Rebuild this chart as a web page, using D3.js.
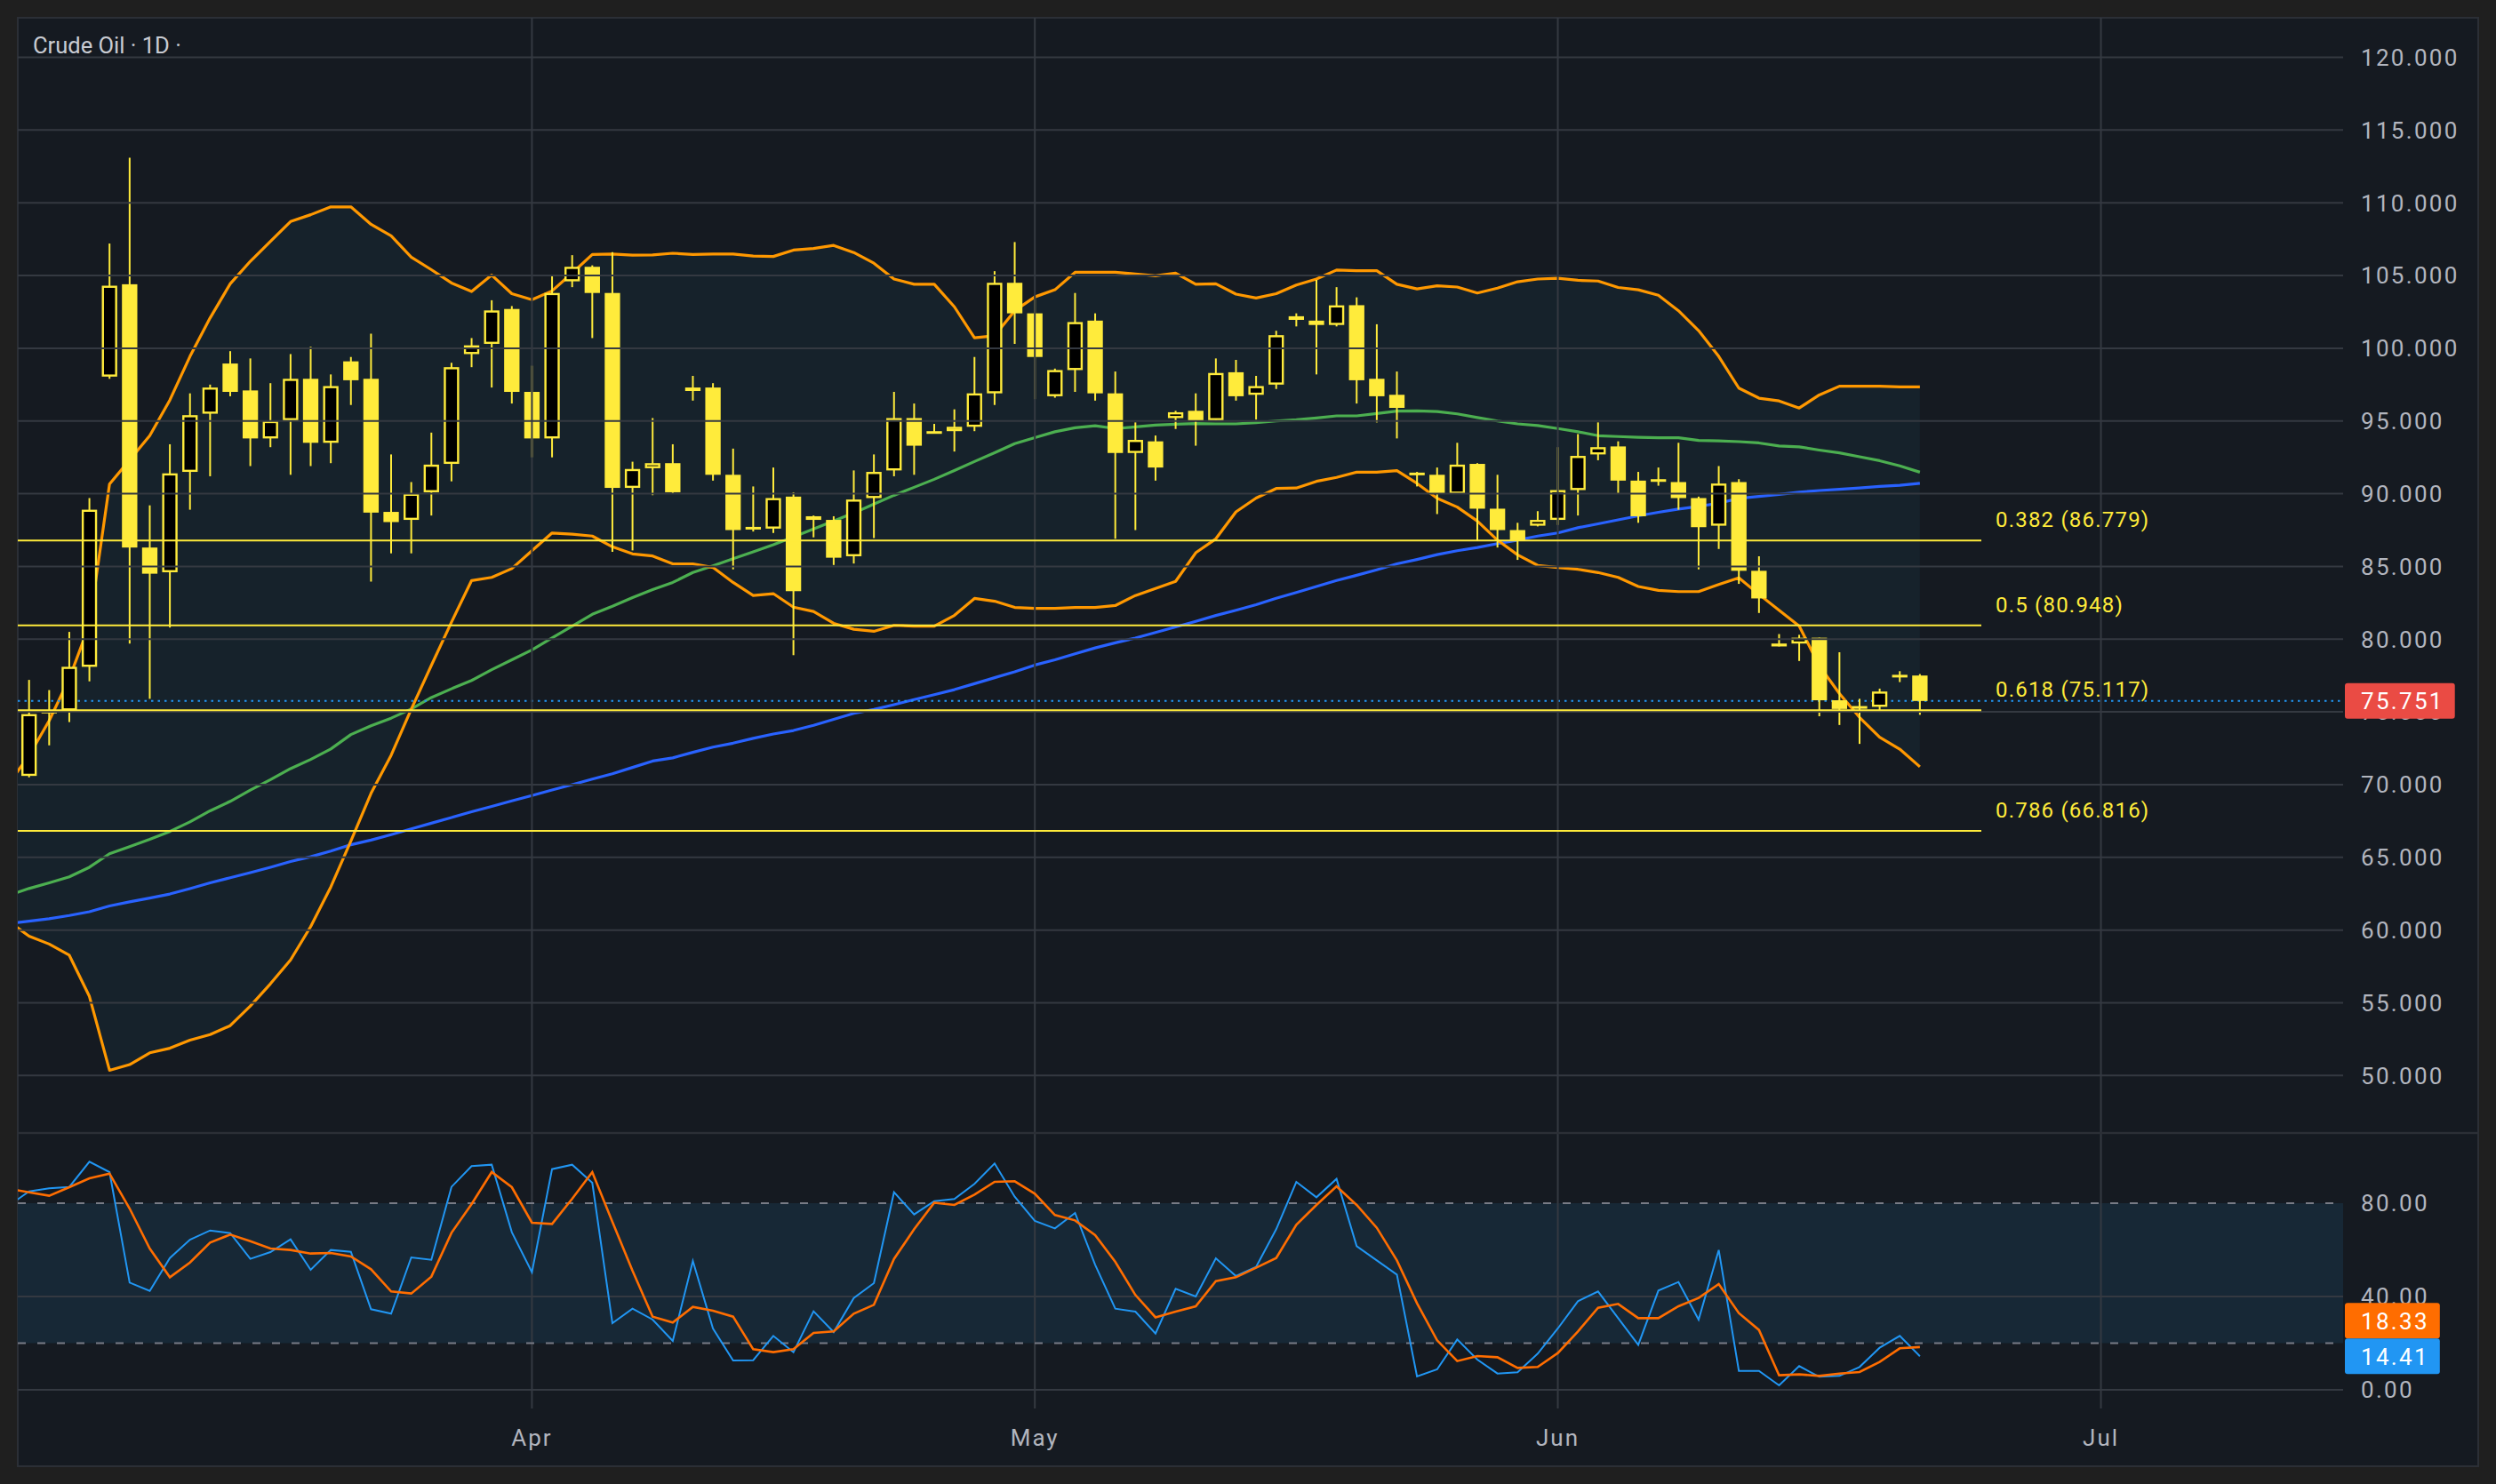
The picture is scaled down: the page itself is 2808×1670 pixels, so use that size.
<!DOCTYPE html>
<html>
<head>
<meta charset="utf-8">
<script src="https://cdn.jsdelivr.net/npm/d3@7"></script>
<style>
  html, body { margin: 0; padding: 0; background: #1f1f1f; }
  svg { display: block; }
  text { font-family: Roboto, "Noto Sans", sans-serif; }
</style>
</head>
<body>
<div id="chart"></div>
<script>
// ---- candles (bar index 0..94) ----
const open = [70.6, 75.1, 75.1, 78.1, 98.05, 104.4, 86.3, 84.6, 91.5, 95.5,
  98.95, 97.1, 93.8, 95.05, 97.9, 93.5, 99.1, 97.9, 88.75, 88.2,
  90.1, 92.05, 99.6, 100.3, 102.7, 97.0, 93.8, 104.6, 105.6, 103.8,
  90.4, 91.75, 92.1, 97.1, 97.3, 91.3, 87.72, 87.6, 89.8, 88.45,
  88.2, 85.7, 89.7, 91.6, 95.2, 94.3, 94.3, 94.6, 96.9, 104.5,
  102.4, 96.7, 98.5, 101.9, 96.9, 92.8, 93.6, 95.2, 95.7, 95.05,
  98.35, 96.8, 97.5, 102.2, 101.9, 101.6, 102.96, 97.9, 96.8, 91.45,
  91.3, 90.0, 92.05, 88.97, 87.5, 87.8, 88.2, 90.25, 92.7, 93.25,
  90.9, 91.0, 90.8, 89.7, 87.8, 90.8, 84.7, 79.7, 79.7, 80.1,
  75.8, 75.4, 75.35, 77.55, 77.5];
const high = [77.2, 76.5, 80.5, 89.7, 107.2, 113.1, 89.2, 93.4, 96.9, 97.5,
  99.8, 99.3, 97.6, 99.6, 100.1, 98.2, 99.4, 101.0, 92.7, 90.8,
  94.2, 99.0, 100.7, 103.3, 102.9, 98.8, 105.0, 106.4, 105.7, 106.6,
  92.2, 95.2, 93.4, 98.1, 97.6, 93.1, 90.5, 91.8, 90.1, 88.5,
  88.45, 91.6, 92.7, 97.0, 96.2, 94.8, 95.8, 99.4, 105.3, 107.3,
  103.4, 98.6, 103.8, 102.4, 98.4, 94.9, 94.0, 95.7, 96.9, 99.3,
  99.2, 98.1, 101.2, 102.4, 104.7, 104.2, 103.5, 101.65, 98.4, 91.5,
  91.8, 93.5, 92.1, 91.3, 88.0, 88.8, 93.2, 94.1, 94.9, 93.6,
  91.5, 91.8, 93.5, 89.8, 91.9, 91.0, 85.7, 80.35, 80.3, 80.1,
  79.1, 75.9, 76.6, 77.8, 77.6];
const low = [70.5, 72.7, 74.3, 77.1, 97.9, 79.7, 75.9, 80.8, 88.9, 91.2,
  96.7, 91.9, 93.2, 91.3, 91.9, 92.1, 96.1, 83.95, 85.9, 85.9,
  88.5, 90.85, 98.7, 97.3, 96.2, 92.5, 92.5, 104.2, 100.7, 86.0,
  86.1, 89.9, 90.0, 96.4, 90.9, 84.8, 87.4, 87.3, 78.9, 87.0,
  85.1, 85.2, 86.95, 91.2, 91.3, 94.2, 92.9, 94.3, 96.1, 100.3,
  96.5, 96.6, 97.0, 96.4, 86.9, 87.5, 90.9, 94.45, 93.3, 95.0,
  96.4, 95.1, 97.2, 101.5, 98.2, 101.5, 96.2, 94.9, 93.8, 90.5,
  88.6, 90.0, 86.8, 86.3, 85.45, 87.75, 87.85, 88.5, 92.3, 90.0,
  88.0, 90.55, 88.9, 84.8, 86.2, 83.8, 81.8, 79.5, 78.5, 74.7,
  74.1, 72.8, 74.95, 77.05, 74.8];
const close = [74.85, 74.9, 78.1, 88.9, 104.3, 86.3, 84.5, 91.4, 95.4, 97.3,
  97.0, 93.8, 95.0, 97.9, 93.5, 97.4, 97.8, 88.7, 88.05, 90.0,
  92.0, 98.7, 100.2, 102.6, 97.0, 93.8, 103.8, 105.6, 103.8, 90.4,
  91.7, 92.1, 90.1, 97.3, 91.3, 87.5, 87.68, 89.7, 83.3, 88.2,
  85.6, 89.6, 91.5, 95.2, 93.3, 94.2, 94.6, 96.9, 104.5, 102.4,
  99.4, 98.5, 101.8, 96.9, 92.8, 93.7, 91.8, 95.6, 95.0, 98.3,
  96.7, 97.4, 100.9, 101.95, 101.6, 102.95, 97.8, 96.7, 95.9, 91.4,
  90.0, 92.0, 88.97, 87.5, 86.8, 88.2, 90.25, 92.6, 93.2, 90.9,
  88.45, 90.9, 89.7, 87.7, 90.7, 84.7, 82.8, 79.5, 80.1, 75.8,
  75.2, 75.35, 76.4, 77.5, 75.751];

// ---- indicators: bar index -1..94 (first point sits just off the left edge) ----
const indStart = -1;
const bbUpper = [70.1, 72.0, 74.4, 77.3, 81.0, 90.66, 92.32, 93.99, 96.44, 99.44,
  102.08, 104.43, 105.98, 107.35, 108.71, 109.18, 109.72, 109.72, 108.52, 107.73,
  106.26, 105.4, 104.49, 103.9, 105.03, 103.75, 103.34, 103.94, 105.17, 106.45,
  106.48, 106.4, 106.42, 106.53, 106.45, 106.48, 106.48, 106.34, 106.31, 106.75,
  106.86, 107.07, 106.58, 105.85, 104.76, 104.4, 104.4, 102.85, 100.72, 100.86,
  102.58, 103.53, 104.02, 105.22, 105.22, 105.22, 105.11, 104.98, 105.17, 104.4,
  104.43, 103.72, 103.45, 103.75, 104.35, 104.76, 105.38, 105.33, 105.33, 104.4,
  104.08, 104.29, 104.21, 103.8, 104.13, 104.57, 104.76, 104.81, 104.67, 104.62,
  104.18, 104.02, 103.64, 102.58, 101.21, 99.44, 97.26, 96.57, 96.38, 95.89,
  96.79, 97.39, 97.39, 97.39, 97.34, 97.34];
const bbLower = [60.6, 59.58, 59.04, 58.27, 55.44, 50.36, 50.75, 51.56, 51.88, 52.43,
  52.82, 53.43, 54.78, 56.31, 57.95, 60.24, 62.96, 66.13, 69.4, 72.02,
  75.18, 78.2, 81.17, 84.03, 84.25, 84.85, 86.08, 87.3, 87.22, 87.09,
  86.35, 85.86, 85.72, 85.18, 85.18, 84.93, 83.9, 83.0, 83.13, 82.2,
  81.9, 81.09, 80.68, 80.54, 80.95, 80.9, 80.9, 81.63, 82.8, 82.61,
  82.18, 82.12, 82.12, 82.18, 82.18, 82.31, 83.0, 83.49, 83.97, 85.94,
  86.9, 88.75, 89.7, 90.36, 90.39, 90.85, 91.12, 91.48, 91.48, 91.59,
  90.71, 89.68, 89.08, 88.12, 86.81, 85.8, 85.07, 84.93, 84.8, 84.58,
  84.25, 83.62, 83.35, 83.27, 83.27, 83.76, 84.22, 83.08, 81.99, 80.9,
  78.17, 76.26, 74.62, 73.26, 72.44, 71.23];
const maGreen = [62.4, 62.86, 63.25, 63.66, 64.32, 65.25, 65.74, 66.24, 66.78, 67.44,
  68.2, 68.85, 69.62, 70.34, 71.1, 71.73, 72.45, 73.44, 74.05, 74.57,
  75.2, 75.99, 76.59, 77.16, 77.9, 78.58, 79.26, 80.08, 80.9, 81.71,
  82.26, 82.86, 83.41, 83.9, 84.58, 85.04, 85.53, 86.0, 86.49, 87.03,
  87.58, 88.12, 88.67, 89.29, 89.89, 90.44, 90.99, 91.59, 92.21, 92.81,
  93.44, 93.85, 94.26, 94.53, 94.67, 94.48, 94.59, 94.72, 94.78, 94.83,
  94.8, 94.8, 94.89, 95.0, 95.08, 95.21, 95.35, 95.35, 95.51, 95.68,
  95.7, 95.65, 95.49, 95.24, 95.0, 94.8, 94.69, 94.48, 94.26, 93.99,
  93.93, 93.88, 93.85, 93.85, 93.66, 93.63, 93.58, 93.49, 93.28, 93.22,
  93.0, 92.81, 92.54, 92.27, 91.91, 91.48];
const maBlue = [60.45, 60.61, 60.78, 61.0, 61.26, 61.66, 61.94, 62.2, 62.48, 62.85,
  63.25, 63.6, 63.95, 64.32, 64.71, 65.04, 65.43, 65.87, 66.19, 66.56,
  66.96, 67.35, 67.74, 68.13, 68.5, 68.88, 69.25, 69.63, 70.0, 70.38,
  70.75, 71.18, 71.62, 71.84, 72.22, 72.58, 72.85, 73.18, 73.48, 73.72,
  74.08, 74.49, 74.9, 75.17, 75.5, 75.85, 76.18, 76.53, 76.94, 77.35,
  77.76, 78.22, 78.58, 78.99, 79.4, 79.75, 80.08, 80.46, 80.84, 81.22,
  81.63, 81.99, 82.37, 82.81, 83.21, 83.62, 84.03, 84.39, 84.77, 85.18,
  85.48, 85.81, 86.08, 86.3, 86.57, 86.81, 87.09, 87.3, 87.66, 87.93,
  88.2, 88.48, 88.72, 88.94, 89.13, 89.35, 89.68, 89.81, 89.95, 90.11,
  90.22, 90.3, 90.39, 90.5, 90.58, 90.71];
const stochK = [79, 85.08, 86.35, 86.98, 97.78, 93.33, 45.97, 42.41, 56.51, 64.38,
  68.32, 67.17, 56.13, 59.05, 64.51, 51.43, 59.94, 59.18, 34.54, 32.64,
  56.76, 55.75, 86.98, 95.87, 96.51, 67.56, 50.41, 94.6, 96.51, 88.76,
  28.57, 34.79, 30.1, 20.95, 55.24, 26.29, 12.57, 12.7, 23.11, 16.13,
  33.65, 24.76, 39.37, 45.71, 84.7, 75.18, 80.89, 81.78, 88.26, 97.02,
  82.79, 72.38, 69.21, 75.81, 53.59, 34.79, 33.52, 24.13, 43.3, 40.0,
  56.38, 48.76, 52.7, 68.83, 89.14, 82.54, 90.41, 61.59, 55.49, 49.4,
  5.71, 8.76, 21.59, 12.95, 6.98, 7.49, 15.49, 26.29, 37.97, 42.16,
  30.73, 19.3, 42.54, 46.22, 30.1, 59.94, 8.13, 8.13, 1.9, 10.16,
  5.59, 5.97, 9.78, 18.03, 23.11, 14.41];
const stochD = [86.2, 84.7, 83.18, 86.86, 90.67, 92.7, 77.71, 60.57, 48.26, 54.6,
  63.11, 66.54, 63.75, 60.57, 59.94, 58.41, 58.67, 57.14, 51.68, 42.16,
  41.27, 48.51, 67.3, 79.62, 93.33, 86.86, 71.62, 71.11, 81.9, 93.33,
  72.0, 51.05, 31.37, 28.83, 35.56, 33.9, 31.37, 17.4, 16.13, 17.4,
  24.38, 25.02, 32.64, 36.44, 56.13, 68.83, 80.25, 79.24, 83.68, 89.14,
  89.4, 84.06, 74.92, 72.63, 66.29, 54.86, 40.63, 31.05, 33.52, 35.81,
  46.6, 48.26, 52.32, 56.51, 70.73, 79.24, 87.24, 79.24, 69.46, 55.49,
  37.08, 21.21, 12.32, 14.48, 13.97, 9.4, 9.78, 15.75, 25.02, 35.18,
  36.83, 30.73, 30.73, 35.81, 39.37, 45.33, 32.89, 25.65, 6.22, 6.6,
  5.97, 6.98, 7.62, 11.94, 17.78, 18.33];

// ---- levels / ticks ----
const fibRatios = [0.382, 0.5, 0.618, 0.786];
const fibPrices = [86.779, 80.948, 75.117, 66.816];
const priceTicks = [50, 55, 60, 65, 70, 75, 80, 85, 90, 95, 100, 105, 110, 115, 120];
const stochTicks = [0, 40, 80];
const stochBand = [20, 80];
const monthLabels = ["Apr", "May", "Jun", "Jul"];
const monthBars = [25, 50, 76, 103];
const lastPrice = 75.751;
const chartTitle = "Crude Oil · 1D ·";

// ---- layout ----
const W = 2808, H = 1670;
const plotLeft = 20, plotRight = 2636, panelRight = 2788;
const plotTop = 20, priceBottom = 1275, panelBottom = 1650;
const axisX = 2656;

const c = {
  bg: "#1f1f1f", panel: "#151a21", border: "#2b2f36", grid: "#343941",
  bbFill: "#16222b", stochFill: "#172836", text: "#b2b5be",
  candle: "#ffeb3b", orange: "#ff9800", green: "#4caf50", blue: "#2962ff",
  kLine: "#2196f3", dLine: "#ff6d00", red: "#ea4b44", dash: "#787b86"
};

const x = d3.scaleLinear().domain([-0.561, 115.04]).range([plotLeft, plotRight]);
const y = d3.scaleLinear().domain([46.05, 122.72]).range([priceBottom, plotTop]);
const ys = d3.scaleLinear().domain([0, 80]).range([1564, 1354]);

const svg = d3.select("#chart").append("svg").attr("width", W).attr("height", H);
svg.append("rect").attr("width", W).attr("height", H).attr("fill", c.bg);
svg.append("rect").attr("x", plotLeft).attr("y", plotTop)
  .attr("width", panelRight - plotLeft).attr("height", panelBottom - plotTop)
  .attr("fill", c.panel).attr("stroke", c.border).attr("stroke-width", 2);

const defs = svg.append("defs");
defs.append("clipPath").attr("id", "clipPrice").append("rect")
  .attr("x", plotLeft).attr("y", plotTop).attr("width", plotRight - plotLeft).attr("height", priceBottom - plotTop);
defs.append("clipPath").attr("id", "clipStoch").append("rect")
  .attr("x", plotLeft).attr("y", priceBottom).attr("width", plotRight - plotLeft).attr("height", panelBottom - priceBottom);

const gPrice = svg.append("g").attr("clip-path", "url(#clipPrice)");
const ix = (d, k) => x(k + indStart);

// bollinger fill
gPrice.append("path").datum(bbUpper)
  .attr("d", d3.area().x(ix).y0((d, k) => y(bbLower[k])).y1(d => y(d)))
  .attr("fill", c.bbFill);

// stochastic band background
svg.append("rect").attr("x", plotLeft).attr("width", plotRight - plotLeft)
  .attr("y", ys(stochBand[1])).attr("height", ys(stochBand[0]) - ys(stochBand[1]))
  .attr("fill", c.stochFill);

// grid
svg.append("g").selectAll("line").data(priceTicks).join("line")
  .attr("x1", plotLeft).attr("x2", plotRight).attr("y1", d => y(d)).attr("y2", d => y(d))
  .attr("stroke", c.grid).attr("stroke-width", 2);
svg.append("g").selectAll("line").data(monthBars).join("line")
  .attr("x1", d => x(d)).attr("x2", d => x(d)).attr("y1", plotTop).attr("y2", 1585)
  .attr("stroke", c.grid).attr("stroke-width", 2);
svg.append("g").selectAll("line").data([0, 40]).join("line")
  .attr("x1", plotLeft).attr("x2", plotRight).attr("y1", d => ys(d)).attr("y2", d => ys(d))
  .attr("stroke", c.grid).attr("stroke-width", 2);
svg.append("g").selectAll("line").data(stochBand).join("line")
  .attr("x1", plotLeft).attr("x2", plotRight).attr("y1", d => ys(d)).attr("y2", d => ys(d))
  .attr("stroke", c.dash).attr("stroke-width", 2).attr("stroke-dasharray", "9,13");

// pane separator
svg.append("line").attr("x1", plotLeft).attr("x2", panelRight).attr("y1", priceBottom).attr("y2", priceBottom)
  .attr("stroke", c.border).attr("stroke-width", 2.5);

// fibonacci levels
const fibG = svg.append("g");
fibG.selectAll("line").data(fibPrices).join("line")
  .attr("x1", plotLeft).attr("x2", 2229).attr("y1", d => y(d)).attr("y2", d => y(d))
  .attr("stroke", c.candle).attr("stroke-width", 2);
fibG.selectAll("text").data(fibPrices).join("text")
  .attr("x", 2245).attr("y", d => y(d) - 15)
  .attr("fill", c.candle).attr("font-size", 24).attr("letter-spacing", 1.2)
  .text((d, k) => `${fibRatios[k]} (${d.toFixed(3)})`);

// moving averages and bands
const priceLine = d3.line().x(ix).y(d => y(d));
[[maBlue, c.blue], [maGreen, c.green], [bbUpper, c.orange], [bbLower, c.orange]].forEach(([s, col]) => {
  gPrice.append("path").datum(s).attr("d", priceLine)
    .attr("fill", "none").attr("stroke", col).attr("stroke-width", 3.2).attr("stroke-linejoin", "round");
});

// last price line
gPrice.append("line").attr("x1", plotLeft).attr("x2", plotRight).attr("y1", y(lastPrice)).attr("y2", y(lastPrice))
  .attr("stroke", c.kLine).attr("stroke-width", 2).attr("stroke-dasharray", "2.5,5");

// candles
const bw = (x(1) - x(0)) * 0.765, sw = 2.4;
const isUp = i => close[i] >= open[i];
const cg = gPrice.append("g").selectAll("g").data(open.map((o, i) => i)).join("g");
cg.append("line")
  .attr("x1", i => x(i)).attr("x2", i => x(i))
  .attr("y1", i => y(high[i])).attr("y2", i => y(low[i]))
  .attr("stroke", c.candle).attr("stroke-width", 2);
cg.append("rect")
  .attr("x", i => isUp(i) ? x(i) - bw / 2 + sw / 2 : x(i) - bw / 2)
  .attr("width", i => isUp(i) ? bw - sw : bw)
  .attr("y", i => {
    const t = y(Math.max(open[i], close[i]));
    return isUp(i) ? t + sw / 2 : t;
  })
  .attr("height", i => {
    const h = Math.max(y(Math.min(open[i], close[i])) - y(Math.max(open[i], close[i])), 3);
    return isUp(i) ? Math.max(h - sw, 1.5) : h;
  })
  .attr("fill", i => isUp(i) ? "#000" : c.candle)
  .attr("stroke", i => isUp(i) ? c.candle : "none")
  .attr("stroke-width", sw);

// stochastic lines
const gStoch = svg.append("g").attr("clip-path", "url(#clipStoch)");
const stochLine = d3.line().x(ix).y(d => ys(d));
gStoch.append("path").datum(stochK).attr("d", stochLine)
  .attr("fill", "none").attr("stroke", c.kLine).attr("stroke-width", 2);
gStoch.append("path").datum(stochD).attr("d", stochLine)
  .attr("fill", "none").attr("stroke", c.dLine).attr("stroke-width", 2.6);

// axis labels
const axG = svg.append("g");
const axisText = (yy, txt) => axG.append("text").attr("x", axisX).attr("y", yy).attr("dy", "0.36em")
  .attr("fill", c.text).attr("font-size", 26).attr("letter-spacing", 2.3).text(txt);
priceTicks.forEach(v => axisText(y(v), d3.format(".3f")(v)));
stochTicks.forEach(v => axisText(ys(v), d3.format(".2f")(v)));

// value tags
function tag(yc, txt, fill) {
  const g = svg.append("g");
  const r = g.append("rect").attr("x", 2638).attr("y", yc - 20).attr("height", 40).attr("rx", 3).attr("fill", fill);
  const t = g.append("text").attr("x", axisX).attr("y", yc).attr("dy", "0.36em")
    .attr("fill", "#ffffff").attr("font-size", 26).attr("letter-spacing", 2.3).text(txt);
  r.attr("width", t.node().getComputedTextLength() + 30);
}
tag(y(lastPrice), lastPrice.toFixed(3), c.red);
const lastK = stochK[stochK.length - 1], lastD = stochD[stochD.length - 1];
const kY = ys(lastK);
let dY = ys(lastD);
if (Math.abs(dY - kY) < 40) dY = kY - 40;
tag(dY, lastD.toFixed(2), c.dLine);
tag(kY, lastK.toFixed(2), c.kLine);

// month labels
svg.append("g").selectAll("text").data(monthLabels).join("text")
  .attr("x", (d, k) => x(monthBars[k])).attr("y", 1627)
  .attr("text-anchor", "middle").attr("fill", c.text).attr("font-size", 26).attr("letter-spacing", 2)
  .text(d => d);

// title
svg.append("text").attr("x", 37).attr("y", 60).attr("fill", "#c8cbd2").attr("font-size", 25.5).text(chartTitle);
</script>
</body>
</html>
